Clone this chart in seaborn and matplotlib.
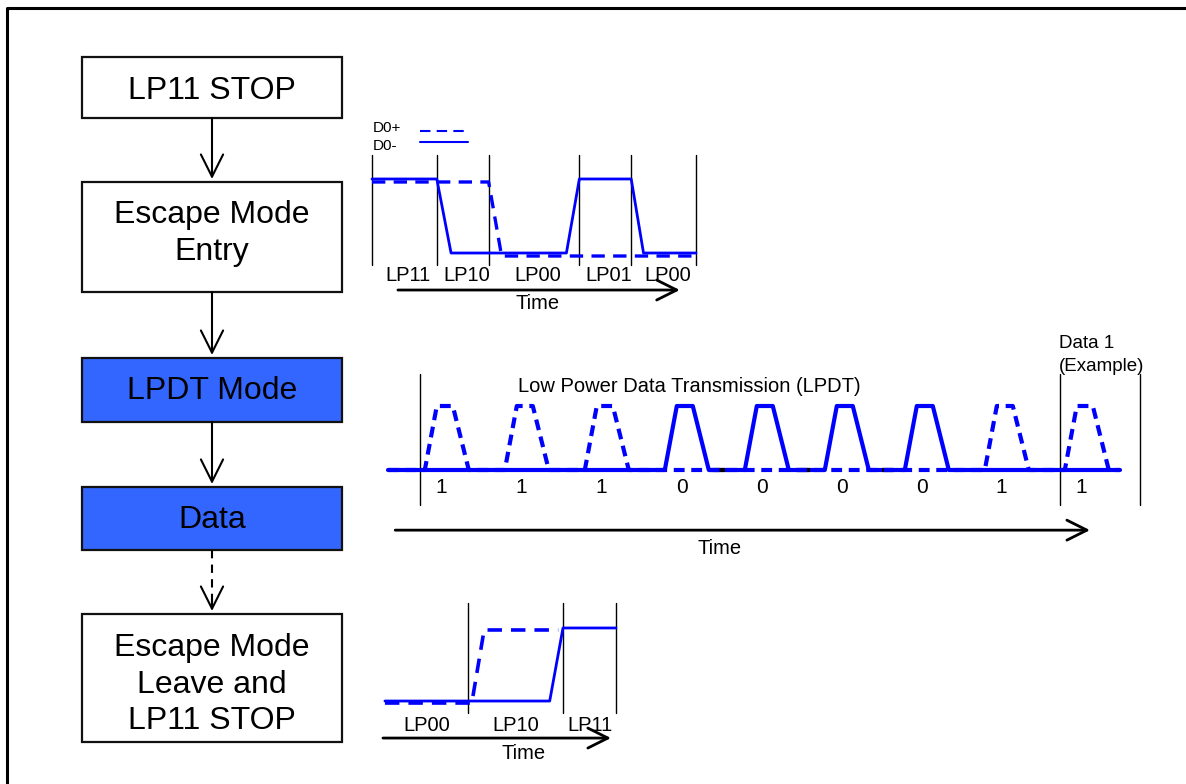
import numpy as np
import pandas as pd
import matplotlib
matplotlib.use("Agg")
import matplotlib.pyplot as plt
import seaborn as sns
from matplotlib.patches import Rectangle
from matplotlib.transforms import offset_copy

W, H = 1186, 784
BLUE = "#0000ff"
BOX_BLUE = "#3366ff"

# flow chart (left column)
box_lines = [["LP11 STOP"], ["Escape Mode", "Entry"], ["LPDT Mode"], ["Data"],
             ["Escape Mode", "Leave and", "LP11 STOP"]]
box_filled = [False, False, True, True, False]
arrow_dashed = [False, False, False, True]

# escape mode entry waveform: time in segment units, level 0/1
entry_states = ["LP11", "LP10", "LP00", "LP01", "LP00"]
entry_edges = [0.0, 1.0, 1.8, 3.2, 4.0, 5.0]
entry_dm_t = [0.0, 1.0, 1.22, 3.0, 3.2, 4.0, 4.19, 5.0]
entry_dm_v = [1, 1, 0, 0, 1, 1, 0, 0]
entry_dp_t = [0.0, 1.8, 2.0, 5.0]
entry_dp_v = [1, 1, 0, 0]

# LPDT data bits (time in bit periods)
lpdt_bits = [1, 1, 1, 0, 0, 0, 0, 1, 1]
pulse_shape_t = [0.06, 0.21, 0.41, 0.61]
pulse_shape_v = [0, 1, 1, 0]
lpdt_span = [-0.4, 8.75]
lpdt_marks = [0, 8, 9]
lpdt_black = [(3.66, 3.81), (4.71, 4.88), (5.78, 5.91)]

# escape mode leave waveform
leave_states = ["LP00", "LP10", "LP11"]
leave_edges = [-0.874, 0.0, 1.0, 1.558]
leave_dp_t = [-0.874, 0.04, 0.17, 0.95]
leave_dp_v = [0, 0, 1, 1]
leave_dm_t = [-0.874, 0.86, 1.0, 1.558]
leave_dm_v = [0, 0, 1, 1]

sns.set_style("white")
plt.rcParams['font.family'] = ['Liberation Sans', 'DejaVu Sans']
plt.rcParams['text.color'] = 'black'

fig = plt.figure(figsize=(W / 100, H / 100), dpi=100)
ax = fig.add_axes([0, 0, 1, 1])
ax.set_xlim(0, W)
ax.set_ylim(H, 0)
ax.axis("off")

# page frame
ax.plot([7, 7, W], [H, 8, 8], color="black", lw=2.2, solid_capstyle="butt")

# flow chart boxes
box_x0, box_x1 = 82, 342
box_tb = [(57, 118), (182, 292), (358, 422), (487, 550), (614, 742)]
text_y = [[88], [212, 249], [388], [517], [645, 682, 718]]
cx = (box_x0 + box_x1) / 2
for lines, filled, (t, b), ys in zip(box_lines, box_filled, box_tb, text_y):
    ax.add_patch(Rectangle((box_x0, t), box_x1 - box_x0, b - t,
                           facecolor=BOX_BLUE if filled else "white",
                           edgecolor="#111111", lw=1.6))
    for s, y in zip(lines, ys):
        ax.text(cx, y + 11, s, fontsize=23, ha="center", va="baseline", color="black")

arrow_kw = dict(arrowstyle="->,head_length=0.8,head_width=0.4", color="black",
                lw=1.5, shrinkA=0, shrinkB=0, mutation_scale=20)
for i, dashed in enumerate(arrow_dashed):
    y0 = box_tb[i][1]
    y1 = box_tb[i + 1][0] - 3
    if dashed:
        ax.plot([cx, cx], [y0, y1 - 2], color="black", lw=1.5, dashes=(4, 3))
        ax.annotate("", xy=(cx, y1), xytext=(cx, y1 - 12), arrowprops=arrow_kw)
    else:
        ax.annotate("", xy=(cx, y1), xytext=(cx, y0), arrowprops=arrow_kw)


def inset(px0, px1, py0, py1, xlim, ylim):
    a = fig.add_axes([px0 / W, 1 - py1 / H, (px1 - px0) / W, (py1 - py0) / H])
    a.set_xlim(xlim)
    a.set_ylim(ylim)
    a.axis("off")
    a.patch.set_alpha(0)
    return a


def wave(a, t, v, dashed, lw, dash=(4, 2.5), dy=0):
    df = pd.DataFrame({"t": t, "v": v})
    sns.lineplot(data=df, x="t", y="v", ax=a, sort=False, estimator=None,
                 color=BLUE, lw=lw)
    line = a.lines[-1]
    line.set_clip_on(False)
    if dashed:
        line.set_dashes(dash)
    if dy:
        line.set_transform(offset_copy(a.transData, fig=fig, x=0, y=dy, units="dots"))
    a.set_xlabel("")
    a.set_ylabel("")


def vline(a, x):
    a.axvline(x, color="black", lw=1, clip_on=False)


def time_arrow(a, x0, x1, y, ty, tx):
    a.annotate("", xy=(x1, y), xytext=(x0, y), xycoords="data",
               arrowprops=dict(arrowstyle="->,head_length=0.8,head_width=0.4",
                               color="black", lw=2, shrinkA=0, shrinkB=0,
                               mutation_scale=18), annotation_clip=False)
    a.text(tx, ty, "Time", fontsize=14.5, ha="center", va="center", clip_on=False)


# ---- escape mode entry ----
a1 = inset(372, 696, 155, 265, (0, 5), (-0.162, 1.324))
for e in entry_edges:
    vline(a1, e)
wave(a1, entry_dm_t, entry_dm_v, False, 2.0)
wave(a1, entry_dp_t, entry_dp_v, True, 2.4, dash=(4, 2.5), dy=-3)
for s, l, r in zip(entry_states, entry_edges[:-1], entry_edges[1:]):
    a1.text((l + r) / 2 + 0.06, -0.31, s, fontsize=14.5, ha="center", va="center",
            clip_on=False)
time_arrow(a1, 0.40, 4.75, -0.50, -0.676, 2.56)
# legend
a1.text(0.015, 1.69, "D0+", fontsize=11, ha="left", va="center", clip_on=False)
a1.text(0.015, 1.44, "D0-", fontsize=11, ha="left", va="center", clip_on=False)
a1.plot([0.74, 1.48], [1.65, 1.65], color=BLUE, lw=1.5, dashes=(5, 3), clip_on=False)
a1.plot([0.74, 1.48], [1.50, 1.50], color=BLUE, lw=1.5, clip_on=False)

# ---- LPDT ----
a2 = inset(380, 1150, 374, 505, (-0.5, 9.125), (-0.547, 1.5))
for m in lpdt_marks:
    vline(a2, m)
dp_t, dp_v = [lpdt_span[0]], [0]
dm_t, dm_v = [lpdt_span[0]], [0]
for i, b in enumerate(lpdt_bits):
    tt, vv = (dp_t, dp_v) if b == 1 else (dm_t, dm_v)
    tt += [i + p for p in pulse_shape_t]
    vv += pulse_shape_v
dp_t.append(lpdt_span[1]); dp_v.append(0)
dm_t.append(lpdt_span[1]); dm_v.append(0)
wave(a2, dm_t, dm_v, False, 3.0)
for s, e in lpdt_black:
    a2.plot([s, e], [0, 0], color="black", lw=3.0, solid_capstyle="butt")
wave(a2, dp_t, dp_v, True, 3.0, dash=(2.6, 1.6))
for i, b in enumerate(lpdt_bits):
    a2.text(i + 0.27, -0.27, str(b), fontsize=15, ha="center", va="center", clip_on=False)
a2.text(1.225, 1.30, "Low Power Data Transmission (LPDT)", fontsize=14.5,
        ha="left", va="center", clip_on=False)
a2.text(7.99, 1.98, "Data 1", fontsize=13.5, ha="left", va="center", clip_on=False)
a2.text(7.99, 1.61, "(Example)", fontsize=13.5, ha="left", va="center", clip_on=False)
time_arrow(a2, -0.31, 8.375, -0.94, -1.22, 3.75)

# ---- escape mode leave ----
a3 = inset(380, 620, 603, 713, (-0.926, 1.6), (-0.164, 1.342))
for e in leave_edges[1:]:
    vline(a3, e)
wave(a3, leave_dm_t, leave_dm_v, False, 2.0)
wave(a3, leave_dp_t, leave_dp_v, True, 2.6, dash=(4, 2.5), dy=-2)
for s, l, r in zip(leave_states, leave_edges[:-1], leave_edges[1:]):
    a3.text((l + r) / 2, -0.33, s, fontsize=14.5, ha="center", va="center", clip_on=False)
time_arrow(a3, -0.895, 1.505, -0.507, -0.712, 0.58)

fig.savefig("out.png", dpi=100)
